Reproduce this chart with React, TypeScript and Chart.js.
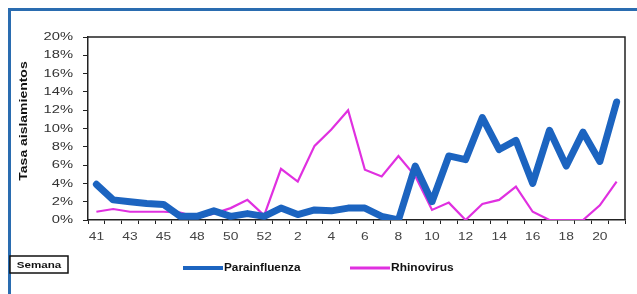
import React, { useEffect, useRef } from "react";
import { Chart, registerables } from "chart.js";

Chart.register(...registerables);

const weeks: string[] = [
  "41", "42", "43", "44", "45", "46", "48", "49", "50", "51", "52", "1",
  "2", "3", "4", "5", "6", "7", "8", "9", "10", "11", "12", "13",
  "14", "15", "16", "17", "18", "19", "20", "21",
];

const parainfluenza: number[] = [
  3.9, 2.2, 2.0, 1.8, 1.7, 0.4, 0.4, 1.0, 0.4, 0.7, 0.4, 1.3,
  0.6, 1.1, 1.0, 1.3, 1.3, 0.4, 0.0, 5.9, 2.0, 7.0, 6.6, 11.2,
  7.7, 8.7, 4.0, 9.8, 5.9, 9.6, 6.4, 12.9,
];

const rhinovirus: number[] = [
  0.9, 1.2, 0.9, 0.9, 0.9, 0.8, 0.3, 0.7, 1.3, 2.2, 0.5, 5.6,
  4.2, 8.1, 9.9, 12.0, 5.5, 4.75, 7.0, 4.8, 1.1, 1.9, 0.0, 1.75,
  2.2, 3.65, 0.9, 0.0, 0.0, 0.0, 1.6, 4.2,
];

const yTicks: number[] = [0, 2, 4, 6, 8, 10, 12, 14, 16, 18, 20];

const seriesNames: string[] = ["Parainfluenza", "Rhinovirus"];
const seriesColors: string[] = ["#1c64c0", "#e030e0"];
const yTitle = "Tasa aislamientos";
const xTitle = "Semana";

const FONT = "'Liberation Sans', Arial, sans-serif";

function stretchText(
  ctx: CanvasRenderingContext2D,
  text: string,
  x: number,
  y: number,
  align: CanvasTextAlign,
  sx: number,
  rot = 0
) {
  ctx.save();
  ctx.translate(x, y);
  if (rot) ctx.rotate(rot);
  ctx.scale(sx, 1);
  ctx.textAlign = align;
  ctx.textBaseline = "middle";
  ctx.fillText(text, 0, 0);
  ctx.restore();
}

const decor = {
  id: "decor",
  beforeDraw(chart: any) {
    const ctx = chart.ctx;
    ctx.save();
    ctx.fillStyle = "#ffffff";
    ctx.fillRect(0, 0, chart.width, chart.height);
    ctx.fillStyle = "#2a6cb0";
    ctx.fillRect(8, 8, chart.width - 8, 3);
    ctx.fillRect(8, 8, 3, chart.height - 8);
    ctx.restore();
  },
  afterDraw(chart: any) {
    const ctx: CanvasRenderingContext2D = chart.ctx;
    const a = chart.chartArea;
    const xs = chart.scales.x;
    const ys = chart.scales.y;
    ctx.save();
    ctx.strokeStyle = "#222";
    ctx.lineWidth = 1.5;
    ctx.beginPath();
    ctx.moveTo(a.left, a.top);
    ctx.lineTo(a.right, a.top);
    ctx.lineTo(a.right, a.bottom);
    ctx.stroke();

    // y tick labels
    ctx.fillStyle = "#333";
    ctx.font = `11.5px ${FONT}`;
    yTicks.forEach((v) => {
      stretchText(ctx, `${v}%`, a.left - 15, ys.getPixelForValue(v), "right", 1.28);
    });
    // x tick labels
    ctx.fillStyle = "#444";
    weeks.forEach((w, i) => {
      if (i % 2 === 0) stretchText(ctx, w, xs.getPixelForValue(i), 237, "center", 1.2);
    });

    // y title
    ctx.fillStyle = "#111";
    ctx.font = `bold 11px ${FONT}`;
    stretchText(ctx, yTitle, 24, 121, "center", 1.27, -Math.PI / 2);

    // Semana box
    ctx.fillStyle = "#fff";
    ctx.fillRect(10, 256, 58, 17);
    ctx.strokeStyle = "#111";
    ctx.lineWidth = 1.5;
    ctx.strokeRect(10, 256, 58, 17);
    ctx.fillStyle = "#111";
    ctx.font = `bold 9.5px ${FONT}`;
    stretchText(ctx, xTitle, 39, 265, "center", 1.22);

    // legend
    const items = [
      { x: 183, w: 40, lw: 4, sx: 1.07 },
      { x: 350, w: 40, lw: 3, sx: 1.09 },
    ];
    ctx.font = `bold 11px ${FONT}`;
    items.forEach((it, i) => {
      ctx.strokeStyle = seriesColors[i];
      ctx.lineWidth = it.lw;
      ctx.beginPath();
      ctx.moveTo(it.x, 268);
      ctx.lineTo(it.x + it.w, 268);
      ctx.stroke();
      ctx.fillStyle = "#111";
      stretchText(ctx, seriesNames[i], it.x + it.w + 1, 268, "left", it.sx);
    });
    ctx.restore();
  },
};

export default function App() {
  const ref = useRef<HTMLCanvasElement | null>(null);
  useEffect(() => {
    if (!ref.current) return;
    const chart = new Chart(ref.current, {
      type: "line",
      data: {
        labels: weeks,
        datasets: [
          {
            label: seriesNames[0],
            data: parainfluenza,
            borderColor: seriesColors[0],
            backgroundColor: seriesColors[0],
            borderWidth: 7,
            pointRadius: 0,
            tension: 0,
            borderJoinStyle: "round",
            borderCapStyle: "round",
          },
          {
            label: seriesNames[1],
            data: rhinovirus,
            borderColor: seriesColors[1],
            backgroundColor: seriesColors[1],
            borderWidth: 2.2,
            pointRadius: 0,
            tension: 0,
          },
        ],
      },
      plugins: [decor],
      options: {
        animation: false,
        responsive: false,
        maintainAspectRatio: false,
        layout: { padding: { top: 37, right: 12, left: 0, bottom: 0 } },
        plugins: {
          legend: { display: false },
          tooltip: { enabled: false },
        },
        scales: {
          x: {
            type: "category",
            offset: true,
            afterFit: (s: any) => {
              s.height = 74;
            },
            grid: {
              offset: true,
              drawOnChartArea: false,
              drawTicks: true,
              tickLength: 4,
              color: "#222",
            },
            border: { display: true, color: "#222", width: 1.5 },
            ticks: {
              autoSkip: false,
              maxRotation: 0,
              padding: 10,
              color: "rgba(0,0,0,0)",
              font: { family: FONT, size: 12 },
              callback: (_v: any, i: number) => (i % 2 === 0 ? weeks[i] : ""),
            },
          },
          y: {
            min: 0,
            max: 20,
            afterFit: (s: any) => {
              s.width = 88;
            },
            grid: {
              drawOnChartArea: false,
              drawTicks: true,
              tickLength: 5,
              color: "#222",
            },
            border: { display: true, color: "#222", width: 1.5 },
            ticks: {
              stepSize: 2,
              padding: 4,
              color: "rgba(0,0,0,0)",
              font: { family: FONT, size: 12 },
              callback: (v: any) => `${v}%`,
            },
          },
        },
      },
    });
    return () => chart.destroy();
  }, []);
  return (
    <div style={{ position: "fixed", left: 0, top: 0, width: 637, height: 294, background: "#fff" }}>
      <canvas ref={ref} width={637} height={294} style={{ display: "block" }} />
    </div>
  );
}
